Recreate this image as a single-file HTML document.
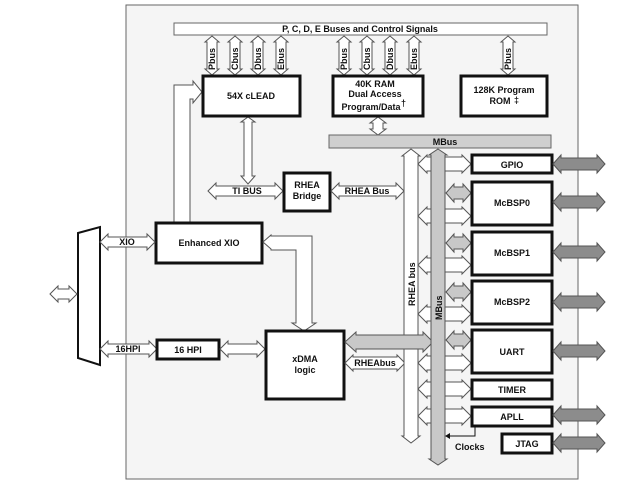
<!DOCTYPE html>
<html><head><meta charset="utf-8"><style>
html,body{margin:0;padding:0;background:#fff;}
svg{display:block;}
text{font-family:"Liberation Sans",Arial,sans-serif;font-weight:bold;font-size:9px;fill:#111;}
.w{fill:#fff;stroke:#555;stroke-width:1;}
.g{fill:#c8c8c8;stroke:#555;stroke-width:1;}
.d{fill:#8c8c8c;stroke:#555;stroke-width:1;}
.b{fill:#fff;stroke:#111;stroke-width:3;}
</style></head><body>
<svg width="637" height="492" viewBox="0 0 637 492" xmlns="http://www.w3.org/2000/svg">
<rect x="126" y="5" width="452" height="474" fill="#f5f5f5" stroke="#666" stroke-width="1"/>
<!-- top bus -->
<rect x="174" y="23" width="373" height="12" fill="#fff" stroke="#666"/>
<text x="360" y="32" text-anchor="middle">P, C, D, E Buses and Control Signals</text>
<!-- vertical bus arrows -->
<g class="w">
<polygon points="212,36 219,42 217,42 217,69 219,69 212,75 205,69 207,69 207,42 205,42"/>
<polygon points="235,36 242,42 240,42 240,69 242,69 235,75 228,69 230,69 230,42 228,42"/>
<polygon points="258,36 265,42 263,42 263,69 265,69 258,75 251,69 253,69 253,42 251,42"/>
<polygon points="281,36 288,42 286,42 286,69 288,69 281,75 274,69 276,69 276,42 274,42"/>
<polygon points="344,36 351,42 349,42 349,69 351,69 344,75 337,69 339,69 339,42 337,42"/>
<polygon points="367,36 374,42 372,42 372,69 374,69 367,75 360,69 362,69 362,42 360,42"/>
<polygon points="390,36 397,42 395,42 395,69 397,69 390,75 383,69 385,69 385,42 383,42"/>
<polygon points="414,36 421,42 419,42 419,69 421,69 414,75 407,69 409,69 409,42 407,42"/>
<polygon points="508,36 515,42 513,42 513,69 515,69 508,75 501,69 503,69 503,42 501,42"/>
<polygon points="378,117 386,123 383,123 383,129 386,129 378,135 370,129 373,129 373,123 370,123"/>
</g>
<g font-size="8">
<text transform="translate(215,70) rotate(-90)">Pbus</text>
<text transform="translate(238,70) rotate(-90)">Cbus</text>
<text transform="translate(261,70) rotate(-90)">Dbus</text>
<text transform="translate(284,70) rotate(-90)">Ebus</text>
<text transform="translate(347,70) rotate(-90)">Pbus</text>
<text transform="translate(370,70) rotate(-90)">Cbus</text>
<text transform="translate(393,70) rotate(-90)">Dbus</text>
<text transform="translate(417,70) rotate(-90)">Ebus</text>
<text transform="translate(511,70) rotate(-90)">Pbus</text>
</g>
<!-- L arrow cLEAD to Enhanced XIO -->
<polygon class="w" points="174,222 174,85 193,85 193,81 202,92 193,103 193,99 190,99 190,222"/>
<!-- cLEAD to TI BUS vertical -->
<polygon class="w" points="242,117 249,122 246,122 246,176 249,176 242,184 235,176 238,176 238,122 235,122" transform="translate(6,0)"/>
<!-- boxes top -->
<rect class="b" x="203" y="76" width="97" height="40"/>
<text x="251" y="99" text-anchor="middle">54X cLEAD</text>
<rect class="b" x="333" y="76" width="90" height="40"/>
<text x="375" y="87" text-anchor="middle">40K RAM</text>
<text x="375" y="97" text-anchor="middle">Dual Access</text>
<text x="371" y="110" text-anchor="middle">Program/Data</text>
<text x="401" y="106" font-size="10" font-weight="normal">†</text>
<rect class="b" x="461" y="76" width="86" height="40"/>
<text x="504" y="93" text-anchor="middle">128K Program</text>
<text x="500" y="104" text-anchor="middle">ROM</text>
<text x="514" y="103" font-size="10" font-weight="normal">‡</text>
<!-- MBus horizontal -->
<rect x="329" y="135" width="222" height="13" fill="#cfcfcf" stroke="#666"/>
<text x="445" y="145" text-anchor="middle">MBus</text>
<!-- TI BUS, RHEA bridge, RHEA Bus -->
<polygon class="w" points="208,191 216,183 216,186 275,186 275,183 283,191 275,199 275,196 216,196 216,199"/>
<text x="247" y="194" text-anchor="middle">TI BUS</text>
<rect class="b" x="284" y="173" width="46" height="38"/>
<text x="307" y="188" text-anchor="middle">RHEA</text>
<text x="307" y="199" text-anchor="middle">Bridge</text>
<polygon class="w" points="331,191 339,183 339,186 396,186 396,183 404,191 396,199 396,196 339,196 339,199"/>
<text x="367" y="194" text-anchor="middle">RHEA Bus</text>
<!-- Enhanced XIO -->
<rect class="b" x="156" y="223" width="106" height="40"/>
<text x="209" y="246" text-anchor="middle">Enhanced XIO</text>
<!-- L arrow XIO to xDMA -->
<polygon class="w" points="263,242 271,235 271,236 312,236 312,323 316,323 304,331 292,323 296,323 296,250 271,250 271,249"/>
<!-- mux -->
<polygon points="78,233 100,227 100,365 78,358" fill="#fff" stroke="#111" stroke-width="2"/>
<polygon class="w" points="50,294 58,286 58,289 69,289 69,286 77,294 69,302 69,299 58,299 58,302"/>
<polygon class="w" points="100,242 108,234 108,237 147,237 147,234 155,242 147,250 147,247 108,247 108,250"/>
<text x="127" y="245" text-anchor="middle">XIO</text>
<polygon class="w" points="100,349 108,341 108,344 149,344 149,341 157,349 149,357 149,354 108,354 108,357"/>
<text x="128" y="352" text-anchor="middle">16HPI</text>
<rect class="b" x="157" y="340" width="62" height="19"/>
<text x="188" y="353" text-anchor="middle">16 HPI</text>
<polygon class="w" points="220,349 228,341 228,344 257,344 257,341 265,349 257,357 257,354 228,354 228,357"/>
<rect class="b" x="266" y="331" width="78" height="68"/>
<text x="305" y="362" text-anchor="middle">xDMA</text>
<text x="305" y="373" text-anchor="middle">logic</text>
<!-- white small arrows to peripherals -->
<g class="w">
<polygon points="418,164 427,155 427,157 462,157 462,155 471,164 462,173 462,171 427,171 427,173"/>
<polygon points="418,216 427,207 427,209 462,209 462,207 471,216 462,225 462,223 427,223 427,225"/>
<polygon points="418,265 427,256 427,258 462,258 462,256 471,265 462,274 462,272 427,272 427,274"/>
<polygon points="418,314 427,305 427,307 462,307 462,305 471,314 462,323 462,321 427,321 427,323"/>
<polygon points="418,363 427,354 427,356 462,356 462,354 471,363 462,372 462,370 427,370 427,372"/>
<polygon points="418,389 427,380 427,382 462,382 462,380 471,389 462,398 462,396 427,396 427,398"/>
<polygon points="418,416 427,407 427,409 462,409 462,407 471,416 462,425 462,423 427,423 427,425"/>
<polygon points="345,363 353,355 353,357 397,357 397,355 405,363 397,371 397,369 353,369 353,371"/>
</g>
<text x="375" y="366" text-anchor="middle">RHEAbus</text>
<!-- RHEA bus vertical -->
<polygon class="w" points="411,149 420,156 418,156 418,436 420,436 411,443 402,436 404,436 404,156 402,156"/>
<text transform="translate(415,306) rotate(-90)">RHEA bus</text>
<!-- gray xDMA to MBus -->
<polygon class="g" points="345,342 356,332 356,335 423,335 423,332 433,342 423,352 423,349 356,349 356,352"/>
<!-- MBus vertical -->
<polygon class="g" points="438,149 447,155 445,155 445,459 447,459 438,465 429,459 431,459 431,155 429,155"/>
<text transform="translate(442,320) rotate(-90)">MBus</text>
<!-- gray small arrows -->
<g class="g">
<polygon points="446,193 454,184 454,187 463,187 463,184 471,193 463,202 463,199 454,199 454,202"/>
<polygon points="446,243 454,234 454,237 463,237 463,234 471,243 463,252 463,249 454,249 454,252"/>
<polygon points="446,292 454,283 454,286 463,286 463,283 471,292 463,301 463,298 454,298 454,301"/>
<polygon points="446,340 454,331 454,334 463,334 463,331 471,340 463,349 463,346 454,346 454,349"/>
</g>
<!-- peripherals -->
<rect class="b" x="472" y="155" width="80" height="18"/><text x="512" y="168" text-anchor="middle">GPIO</text>
<rect class="b" x="472" y="182" width="80" height="43"/><text x="512" y="206" text-anchor="middle">McBSP0</text>
<rect class="b" x="472" y="232" width="80" height="43"/><text x="512" y="256" text-anchor="middle">McBSP1</text>
<rect class="b" x="472" y="281" width="80" height="43"/><text x="512" y="305" text-anchor="middle">McBSP2</text>
<rect class="b" x="472" y="330" width="80" height="43"/><text x="512" y="355" text-anchor="middle">UART</text>
<rect class="b" x="472" y="380" width="80" height="19"/><text x="512" y="393" text-anchor="middle">TIMER</text>
<rect class="b" x="472" y="407" width="80" height="19"/><text x="512" y="420" text-anchor="middle">APLL</text>
<rect class="b" x="502" y="434" width="50" height="19"/><text x="527" y="447" text-anchor="middle">JTAG</text>
<!-- clocks -->
<polyline points="475,427 475,436 448,436" fill="none" stroke="#111"/>
<polygon points="445,436 450,433 450,439" fill="#111"/>
<text x="455" y="450">Clocks</text>
<!-- dark right arrows -->
<g class="d">
<polygon points="553,164 561,155 561,158 597,158 597,155 605,164 597,173 597,170 561,170 561,173"/>
<polygon points="553,202 561,193 561,196 597,196 597,193 605,202 597,211 597,208 561,208 561,211"/>
<polygon points="553,252 561,243 561,246 597,246 597,243 605,252 597,261 597,258 561,258 561,261"/>
<polygon points="553,302 561,293 561,296 597,296 597,293 605,302 597,311 597,308 561,308 561,311"/>
<polygon points="553,351 561,342 561,345 597,345 597,342 605,351 597,360 597,357 561,357 561,360"/>
<polygon points="553,415 561,406 561,409 597,409 597,406 605,415 597,424 597,421 561,421 561,424"/>
<polygon points="553,443 561,434 561,437 597,437 597,434 605,443 597,452 597,449 561,449 561,452"/>
</g>
</svg>
</body></html>
